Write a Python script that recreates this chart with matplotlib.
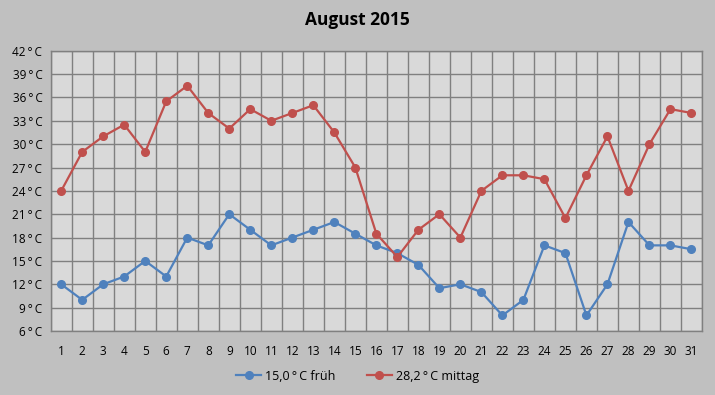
import matplotlib
matplotlib.use("Agg")
import matplotlib.pyplot as plt
from matplotlib.ticker import FixedLocator

days = list(range(1, 32))
frueh = [12, 10, 12, 13, 15, 13, 18, 17, 21, 19, 17, 18, 19, 20, 18.5, 17,
         16, 14.5, 11.5, 12, 11, 8, 10, 17, 16, 8, 12, 20, 17, 17, 16.5]
mittag = [24, 29, 31, 32.5, 29, 35.5, 37.5, 34, 32, 34.5, 33, 34, 35, 31.5, 27, 18.5,
          15.5, 19, 21, 18, 24, 26, 26, 25.5, 20.5, 26, 31, 24, 30, 34.5, 34]
label_frueh = "15,0\u2009°\u2009C früh"
label_mittag = "28,2\u2009°\u2009C mittag"
title = "August 2015"
yticks = list(range(6, 43, 3))

plt.rcParams['font.family'] = ['Open Sans', 'DejaVu Sans']

fig = plt.figure(figsize=(7.15, 3.95), dpi=100, facecolor="#c0c0c0")
ax = fig.add_axes([0.0709, 0.162, 0.9109, 0.7096])
ax.set_facecolor("#d9d9d9")

ax.plot(days, frueh, color="#4f81bd", lw=1.6, marker="o", ms=5.5, label=label_frueh, zorder=3)
ax.plot(days, mittag, color="#c0504d", lw=1.6, marker="o", ms=5.5, label=label_mittag, zorder=3)

ax.set_xlim(0.5, 31.5)
ax.set_ylim(6, 42)
ax.set_xticks(days)
ax.set_xticklabels([str(d) for d in days])
ax.xaxis.set_minor_locator(FixedLocator([d + 0.5 for d in range(0, 32)]))
ax.set_yticks(yticks)
ax.set_yticklabels([f"{v}\u2009°\u2009C" for v in yticks])
ax.grid(True, which="minor", axis="x", color="#808080", lw=1)
ax.grid(True, which="major", axis="y", color="#808080", lw=1)
ax.set_axisbelow(True)
ax.tick_params(axis="both", which="both", length=0, labelsize=8.5, colors="black")
ax.tick_params(axis="x", pad=10)
ax.tick_params(axis="y", pad=6)
for s in ax.spines.values():
    s.set_color("#808080")
    s.set_linewidth(1)

fig.text(0.5, 0.95, title, ha="center", va="center", fontsize=12.5, fontweight="bold")

fig.legend(loc="center", bbox_to_anchor=(0.5, 0.048), ncol=2, frameon=False,
           fontsize=9, handlelength=2.0, columnspacing=2.5, handletextpad=0.3)

fig.savefig("out.png", dpi=100, facecolor=fig.get_facecolor())
